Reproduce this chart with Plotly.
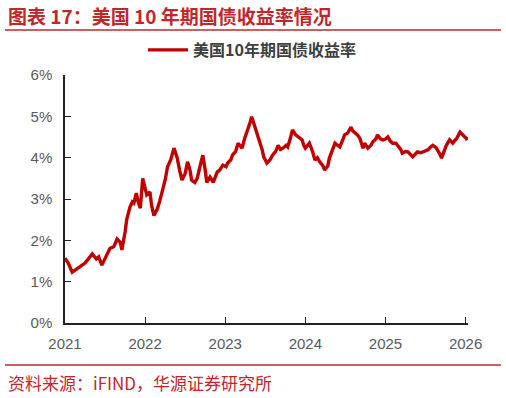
import plotly.graph_objects as go

# decimal-year positions
dates = [2021.00, 2021.04, 2021.09, 2021.14, 2021.19, 2021.25, 2021.29, 2021.34, 2021.39, 2021.42,
         2021.46, 2021.51, 2021.56, 2021.61, 2021.65, 2021.69, 2021.71, 2021.75, 2021.77, 2021.81,
         2021.84, 2021.86, 2021.89, 2021.91, 2021.94, 2021.97, 2022.00, 2022.02, 2022.06, 2022.08,
         2022.11, 2022.15, 2022.18, 2022.22, 2022.25, 2022.28, 2022.32, 2022.36, 2022.40, 2022.43,
         2022.46, 2022.50, 2022.53, 2022.56, 2022.58, 2022.62, 2022.65, 2022.68, 2022.72, 2022.75,
         2022.77, 2022.81, 2022.85, 2022.90, 2022.93, 2022.97, 2023.01, 2023.03, 2023.07, 2023.09,
         2023.13, 2023.16, 2023.21, 2023.24, 2023.27, 2023.31, 2023.33, 2023.37, 2023.41, 2023.43,
         2023.46, 2023.48, 2023.52, 2023.56, 2023.59, 2023.63, 2023.66, 2023.69, 2023.72, 2023.76,
         2023.78, 2023.81, 2023.84, 2023.88, 2023.91, 2023.96, 2023.98, 2024.00, 2024.05, 2024.09,
         2024.12, 2024.15, 2024.18, 2024.22, 2024.24, 2024.28, 2024.30, 2024.34, 2024.37, 2024.40,
         2024.43, 2024.47, 2024.49, 2024.53, 2024.57, 2024.59, 2024.62, 2024.65, 2024.68, 2024.72,
         2024.74, 2024.78, 2024.82, 2024.84, 2024.88, 2024.90, 2024.94, 2024.97, 2025.00, 2025.03,
         2025.06, 2025.09, 2025.13, 2025.15, 2025.19, 2025.21, 2025.25, 2025.28, 2025.31, 2025.34,
         2025.38, 2025.40, 2025.44, 2025.46, 2025.50, 2025.53, 2025.56, 2025.59, 2025.63, 2025.65,
         2025.68, 2025.70, 2025.74, 2025.76, 2025.80, 2025.84, 2025.86, 2025.89, 2025.93, 2025.96,
         2025.99, 2026.01, 2026.02]

yields = [1.57, 1.45, 1.23, 1.30, 1.35, 1.45, 1.55, 1.67, 1.55, 1.60,
          1.40, 1.60, 1.80, 1.85, 2.03, 1.95, 1.77, 2.20, 2.50, 2.80,
          2.93, 2.90, 3.14, 2.95, 2.78, 3.50, 3.25, 3.10, 3.17, 2.85,
          2.60, 2.75, 2.93, 3.20, 3.46, 3.78, 3.95, 4.23, 4.00, 3.70,
          3.46, 3.62, 3.90, 3.70, 3.46, 3.40, 3.50, 3.75, 4.06, 3.70,
          3.40, 3.53, 3.40, 3.65, 3.70, 3.82, 3.78, 3.87, 3.95, 4.06,
          4.15, 4.35, 4.23, 4.45, 4.60, 4.85, 4.99, 4.74, 4.55, 4.38,
          4.20, 4.02, 3.87, 3.95, 4.06, 4.15, 4.30, 4.20, 4.23, 4.30,
          4.26, 4.45, 4.67, 4.55, 4.50, 4.43, 4.30, 4.23, 4.35, 4.15,
          3.94, 4.00, 3.90, 3.80, 3.70, 3.80, 3.99, 4.20, 4.35, 4.30,
          4.26, 4.45, 4.55, 4.60, 4.74, 4.65, 4.60, 4.55, 4.47, 4.23,
          4.35, 4.23, 4.30, 4.38, 4.45, 4.55, 4.45, 4.43, 4.45, 4.50,
          4.40, 4.35, 4.35, 4.30, 4.20, 4.11, 4.15, 4.14, 4.08, 4.02,
          4.10, 4.14, 4.12, 4.14, 4.18, 4.19, 4.25, 4.30, 4.25, 4.19,
          4.08, 3.99, 4.20, 4.30, 4.43, 4.35, 4.40, 4.47, 4.62, 4.55,
          4.50, 4.47, 4.42]

x_ticks = [2021, 2022, 2023, 2024, 2025, 2026]
x_tick_labels = ["2021", "2022", "2023", "2024", "2025", "2026"]
y_ticks = [0, 1, 2, 3, 4, 5, 6]
y_tick_labels = ["0%", "1%", "2%", "3%", "4%", "5%", "6%"]

series_name = "美国10年期国债收益率"
title_text = "图表 17：美国 10 年期国债收益率情况"
source_text = "资料来源：iFIND，华源证券研究所"

RED = "#C00000"
TXT_RED = "#C0272D"
GREY = "#595959"
CJK = "Noto Sans CJK SC"
LAT = "Liberation Sans"

fig = go.Figure()
fig.add_trace(go.Scatter(x=dates, y=yields, mode="lines", name=series_name,
                         line=dict(color=RED, width=3.4)))

L, R, T, B = 65, 38, 75, 75
W, H = 506, 398
pw, ph = W - L - R, H - T - B


def px_x(p):
    return (p - L) / pw


def px_y(p):
    return (H - B - p) / ph


fig.update_layout(
    width=W, height=H,
    margin=dict(l=L, r=R, t=T, b=B),
    paper_bgcolor="white", plot_bgcolor="white",
    showlegend=True,
    legend=dict(orientation="h", x=px_x(252), xanchor="center", y=px_y(50), yanchor="middle",
                itemwidth=40,
                font=dict(family=CJK, size=16, color="#404040", weight="bold"),
                bgcolor="rgba(0,0,0,0)"),
    xaxis=dict(range=[2021, 2026.03], tickvals=x_ticks, ticktext=x_tick_labels,
               showgrid=False, zeroline=False, showline=True, linecolor="#222222", linewidth=1.5,
               ticks="inside", ticklen=6, tickcolor="#222222", tickwidth=1.2,
               tickfont=dict(family=LAT, size=15, color=GREY), ticklabelstandoff=6),
    yaxis=dict(range=[0, 6], tickvals=y_ticks, ticktext=y_tick_labels,
               showgrid=False, zeroline=False, showline=True, linecolor="#222222", linewidth=1.5,
               ticks="inside", ticklen=6, tickcolor="#222222", tickwidth=1.2,
               tickfont=dict(family=LAT, size=15, color=GREY), ticklabelstandoff=8),
    shapes=[
        dict(type="line", xref="paper", yref="paper", x0=px_x(5), x1=px_x(501),
             y0=px_y(30), y1=px_y(30), line=dict(color=TXT_RED, width=1.5)),
        dict(type="line", xref="paper", yref="paper", x0=px_x(5), x1=px_x(501),
             y0=px_y(365), y1=px_y(365), line=dict(color=TXT_RED, width=1.5)),
    ],
    annotations=[
        dict(text=title_text, xref="paper", yref="paper", x=px_x(6), y=px_y(15),
             xanchor="left", yanchor="middle", showarrow=False,
             font=dict(family=CJK, size=19, color=TXT_RED, weight="bold")),
        dict(text=source_text, xref="paper", yref="paper", x=px_x(6), y=px_y(382),
             xanchor="left", yanchor="middle", showarrow=False,
             font=dict(family=CJK, size=17, color=TXT_RED)),
    ],
)

fig.write_html("out.html")
